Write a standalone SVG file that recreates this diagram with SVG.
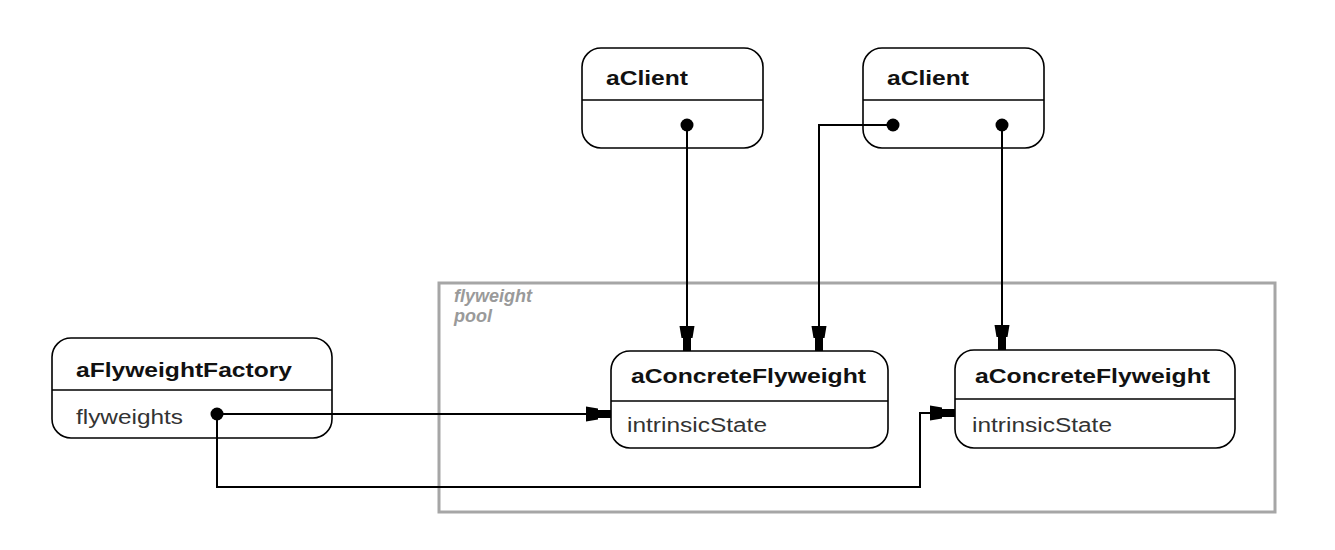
<svg xmlns="http://www.w3.org/2000/svg" width="1335" height="550" viewBox="0 0 1335 550">
  <style>
    .box { fill: #ffffff; stroke: #000000; stroke-width: 1.6; }
    .div { stroke: #000000; stroke-width: 1.6; }
    .title { font-family: "Liberation Sans", Arial, sans-serif; font-weight: bold; font-size: 21px; fill: #111111; }
    .attr { font-family: "Liberation Sans", Arial, sans-serif; font-size: 20px; fill: #333333; }
    .pool { fill: none; stroke: #a6a6a6; stroke-width: 3; }
    .poolLabel { font-family: "Liberation Sans", Arial, sans-serif; font-style: italic; font-weight: bold; font-size: 18px; fill: #9a9a9a; }
    .wire { fill: none; stroke: #000000; stroke-width: 2; }
    .dot { fill: #000000; }
  </style>
  <defs>
    <marker id="head" markerUnits="userSpaceOnUse" markerWidth="30" markerHeight="20" viewBox="-27 -10 30 20" refX="0" refY="0" orient="auto">
      <path d="M-25,-7.5 L-13,-5.5 L-13,-4 L0,-4 L0,4 L-13,4 L-13,5.5 L-25,7.5 Z" fill="#000000"/>
    </marker>
  </defs>

  <rect width="1335" height="550" fill="#ffffff"/>

  <!-- flyweight pool boundary -->
  <g id="flyweight-pool">
    <rect class="pool" x="439" y="283" width="836" height="229"/>
    <text class="poolLabel" x="454" y="302">flyweight</text>
    <text class="poolLabel" x="454" y="322">pool</text>
  </g>

  <g id="client-1">
    <rect class="box" x="582" y="48" width="181" height="100" rx="19" ry="19"/>
    <line class="div" x1="582" y1="100" x2="763" y2="100"/>
    <text class="title" x="606" y="85" textLength="82" lengthAdjust="spacingAndGlyphs">aClient</text>
  </g>

  <g id="client-2">
    <rect class="box" x="863" y="48" width="181" height="100" rx="19" ry="19"/>
    <line class="div" x1="863" y1="100" x2="1044" y2="100"/>
    <text class="title" x="887" y="85" textLength="82" lengthAdjust="spacingAndGlyphs">aClient</text>
  </g>

  <g id="flyweight-factory">
    <rect class="box" x="52" y="338" width="280" height="100" rx="19" ry="19"/>
    <line class="div" x1="52" y1="390" x2="332" y2="390"/>
    <text class="title" x="76" y="377" textLength="216" lengthAdjust="spacingAndGlyphs">aFlyweightFactory</text>
    <text class="attr" x="76" y="424" textLength="107" lengthAdjust="spacingAndGlyphs">flyweights</text>
  </g>

  <g id="concrete-flyweight-1">
    <rect class="box" x="611" y="351" width="277" height="97" rx="19" ry="19"/>
    <line class="div" x1="611" y1="401" x2="888" y2="401"/>
    <text class="title" x="631" y="383" textLength="235" lengthAdjust="spacingAndGlyphs">aConcreteFlyweight</text>
    <text class="attr" x="627" y="432" textLength="140" lengthAdjust="spacingAndGlyphs">intrinsicState</text>
  </g>

  <g id="concrete-flyweight-2">
    <rect class="box" x="955" y="350" width="280" height="98" rx="19" ry="19"/>
    <line class="div" x1="955" y1="399" x2="1235" y2="399"/>
    <text class="title" x="975" y="383" textLength="235" lengthAdjust="spacingAndGlyphs">aConcreteFlyweight</text>
    <text class="attr" x="972" y="432" textLength="140" lengthAdjust="spacingAndGlyphs">intrinsicState</text>
  </g>

  <!-- object references -->
  <g id="connectors">
    <path class="wire" d="M687,125 L687,351" marker-end="url(#head)"/>
    <path class="wire" d="M893,125 L819,125 L819,351" marker-end="url(#head)"/>
    <path class="wire" d="M1002,125 L1002,350" marker-end="url(#head)"/>
    <path class="wire" d="M217,414 L611,414" marker-end="url(#head)"/>
    <path class="wire" d="M217,414 L217,487 L920,487 L920,413 L955,413" marker-end="url(#head)"/>
    <circle class="dot" cx="687" cy="125" r="6.5"/>
    <circle class="dot" cx="893" cy="125" r="6.5"/>
    <circle class="dot" cx="1002" cy="125" r="6.5"/>
    <circle class="dot" cx="217" cy="414" r="6.5"/>
  </g>
</svg>
